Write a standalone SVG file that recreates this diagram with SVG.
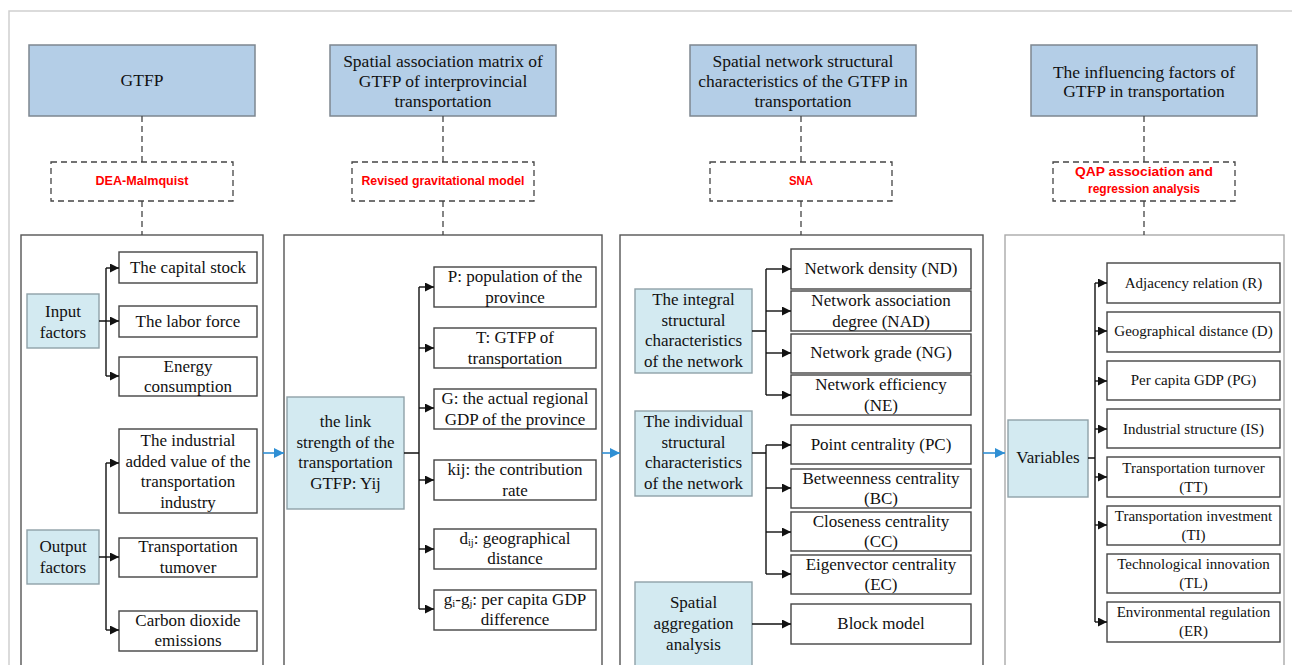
<svg xmlns="http://www.w3.org/2000/svg" width="1292" height="665" viewBox="0 0 1292 665">
<defs>
<marker id="ah" markerUnits="userSpaceOnUse" markerWidth="10" markerHeight="10" refX="9" refY="4.5" orient="auto"><path d="M0,0 L9,4.5 L0,9 z" fill="#111"/></marker>
<marker id="bh" markerUnits="userSpaceOnUse" markerWidth="12" markerHeight="12" refX="10" refY="5" orient="auto"><path d="M0,0 L10,5 L0,10 z" fill="#2f8fd4"/></marker>
<style>
.frame{fill:none;stroke:#cfcfcf;stroke-width:1.5}
.hdr{fill:#b4cee7;stroke:#7d8790;stroke-width:1.5}
.dbox{fill:#fff;stroke:#444;stroke-width:1.3;stroke-dasharray:6 4}
.dl{fill:none;stroke:#444;stroke-width:1.3;stroke-dasharray:6 4}
.col{fill:#fff;stroke:#555;stroke-width:1.4}
.col4{fill:#fff;stroke:#aaa;stroke-width:1.4}
.src{fill:#d3eaf1;stroke:#8fa1a8;stroke-width:1.4}
.item{fill:#fff;stroke:#444;stroke-width:1.4}
.ln{fill:none;stroke:#111;stroke-width:1.4}
.ar{fill:none;stroke:#111;stroke-width:1.4;marker-end:url(#ah)}
.bl{fill:none;stroke:#2f8fd4;stroke-width:1.6;marker-end:url(#bh)}
text{font-family:"Liberation Serif","Times New Roman",serif;font-size:17px;fill:#111;text-anchor:middle}
.h{font-size:17.5px}
.s{font-size:15px}
.red{font-family:"Liberation Sans",Arial,sans-serif;font-weight:bold;font-size:12.5px;fill:#ff0000}
.sub{font-size:10.5px}
</style>
</defs>
<path class="frame" d="M9,700 L9,11 L1300,11"/>

<!-- headers -->
<g id="h1"><rect class="hdr" x="29" y="45" width="226" height="71"/><text class="h" x="142" y="86">GTFP</text></g>
<g id="h2"><rect class="hdr" x="330" y="45" width="226" height="71"/><text class="h" x="443" y="67">Spatial association matrix of</text><text class="h" x="443" y="87">GTFP of interprovincial</text><text class="h" x="443" y="107">transportation</text></g>
<g id="h3"><rect class="hdr" x="690" y="45" width="226" height="71"/><text class="h" x="803" y="67">Spatial network structural</text><text class="h" x="803" y="87">characteristics of the GTFP in</text><text class="h" x="803" y="107">transportation</text></g>
<g id="h4"><rect class="hdr" x="1031" y="45" width="226" height="71"/><text class="h" x="1144" y="78">The influencing factors of</text><text class="h" x="1144" y="97">GTFP in transportation</text></g>

<!-- method boxes -->
<g id="m1"><rect class="dbox" x="51" y="162" width="182" height="39"/><text class="red" x="142" y="185" textLength="93" lengthAdjust="spacingAndGlyphs">DEA-Malmquist</text></g>
<g id="m2"><rect class="dbox" x="352" y="162" width="182" height="39"/><text class="red" x="443" y="185" textLength="163" lengthAdjust="spacingAndGlyphs">Revised gravitational model</text></g>
<g id="m3"><rect class="dbox" x="710" y="162" width="182" height="39"/><text class="red" x="801" y="185" textLength="24" lengthAdjust="spacingAndGlyphs">SNA</text></g>
<g id="m4"><rect class="dbox" x="1053" y="162" width="182" height="39"/><text class="red" x="1144" y="176" textLength="138" lengthAdjust="spacingAndGlyphs">QAP association and</text><text class="red" x="1144" y="193" textLength="112" lengthAdjust="spacingAndGlyphs">regression analysis</text></g>

<!-- columns -->
<g id="c1"><rect class="col" x="21" y="235" width="242" height="500"/></g>
<g id="c2"><rect class="col" x="284" y="235" width="318" height="500"/></g>
<g id="c3"><rect class="col" x="620" y="235" width="363" height="500"/></g>
<g id="c4"><rect class="col4" x="1005" y="235" width="279" height="500"/></g>

<!-- column 1 nodes -->
<g id="input"><rect class="src" x="27" y="294" width="72" height="54"/><text x="63" y="317">Input</text><text x="63" y="338">factors</text></g>
<g id="output"><rect class="src" x="27" y="530" width="72" height="54"/><text x="63" y="552">Output</text><text x="63" y="573">factors</text></g>
<g id="capital"><rect class="item" x="119" y="252" width="138" height="31"/><text x="188" y="273">The capital stock</text></g>
<g id="labor"><rect class="item" x="119" y="306" width="138" height="31"/><text x="188" y="327">The labor force</text></g>
<g id="energy"><rect class="item" x="119" y="357" width="138" height="39"/><text x="188" y="372">Energy</text><text x="188" y="392">consumption</text></g>
<g id="industrial"><rect class="item" x="119" y="429" width="138" height="84"/><text x="188" y="446">The industrial</text><text x="188" y="467">added value of the</text><text x="188" y="487">transportation</text><text x="188" y="508">industry</text></g>
<g id="turnover"><rect class="item" x="119" y="538" width="138" height="39"/><text x="188" y="552">Transportation</text><text x="188" y="573">tumover</text></g>
<g id="carbon"><rect class="item" x="119" y="611" width="138" height="40"/><text x="188" y="626">Carbon dioxide</text><text x="188" y="646">emissions</text></g>

<!-- column 2 nodes -->
<g id="link"><rect class="src" x="287" y="397" width="117" height="112"/><text x="345.5" y="427">the link</text><text x="345.5" y="448">strength of the</text><text x="345.5" y="468">transportation</text><text x="345.5" y="489">GTFP: Yij</text></g>
<g id="pP"><rect class="item" x="434" y="267" width="162" height="40"/><text x="515" y="282">P: population of the</text><text x="515" y="303">province</text></g>
<g id="pT"><rect class="item" x="434" y="328" width="162" height="40"/><text x="515" y="343">T: GTFP of</text><text x="515" y="364">transportation</text></g>
<g id="pG"><rect class="item" x="434" y="389" width="162" height="40"/><text x="515" y="404">G: the actual regional</text><text x="515" y="425">GDP of the province</text></g>
<g id="pk"><rect class="item" x="434" y="460" width="162" height="40"/><text x="515" y="475">kij: the contribution</text><text x="515" y="496">rate</text></g>
<g id="pd"><rect class="item" x="434" y="529" width="162" height="40"/><text x="515" y="544">d<tspan class="sub" dy="2">ij</tspan><tspan dy="-2">: geographical</tspan></text><text x="515" y="564">distance</text></g>
<g id="pg"><rect class="item" x="434" y="590" width="162" height="40"/><text x="515" y="605">g<tspan class="sub" dy="2">i</tspan><tspan dy="-2">-g</tspan><tspan class="sub" dy="2">j</tspan><tspan dy="-2">: per capita GDP</tspan></text><text x="515" y="625">difference</text></g>

<!-- column 3 nodes -->
<g id="integral"><rect class="src" x="635" y="289" width="117" height="84"/><text x="693.5" y="305">The integral</text><text x="693.5" y="326">structural</text><text x="693.5" y="346">characteristics</text><text x="693.5" y="367">of the network</text></g>
<g id="individual"><rect class="src" x="635" y="411" width="117" height="85"/><text x="693.5" y="427">The individual</text><text x="693.5" y="448">structural</text><text x="693.5" y="468">characteristics</text><text x="693.5" y="489">of the network</text></g>
<g id="aggregation"><rect class="src" x="635" y="582" width="117" height="100"/><text x="693.5" y="608">Spatial</text><text x="693.5" y="629">aggregation</text><text x="693.5" y="650">analysis</text></g>
<g id="nd"><rect class="item" x="791" y="249" width="180" height="40"/><text x="881" y="274">Network density (ND)</text></g>
<g id="nad"><rect class="item" x="791" y="291" width="180" height="40"/><text x="881" y="306">Network association</text><text x="881" y="327">degree (NAD)</text></g>
<g id="ng"><rect class="item" x="791" y="334" width="180" height="39"/><text x="881" y="358">Network grade (NG)</text></g>
<g id="ne"><rect class="item" x="791" y="375" width="180" height="40"/><text x="881" y="390">Network efficiency</text><text x="881" y="411">(NE)</text></g>
<g id="pc"><rect class="item" x="791" y="425" width="180" height="39"/><text x="881" y="450">Point centrality (PC)</text></g>
<g id="bc"><rect class="item" x="791" y="469" width="180" height="39"/><text x="881" y="484">Betweenness centrality</text><text x="881" y="504">(BC)</text></g>
<g id="cc"><rect class="item" x="791" y="512" width="180" height="39"/><text x="881" y="527">Closeness centrality</text><text x="881" y="547">(CC)</text></g>
<g id="ec"><rect class="item" x="791" y="555" width="180" height="39"/><text x="881" y="570">Eigenvector centrality</text><text x="881" y="590">(EC)</text></g>
<g id="block"><rect class="item" x="791" y="604" width="180" height="40"/><text x="881" y="629">Block model</text></g>

<!-- column 4 nodes -->
<g id="variables"><rect class="src" x="1008" y="420" width="80" height="77"/><text x="1048" y="463">Variables</text></g>
<g id="vR"><rect class="item" x="1107" y="263" width="173" height="40"/><text class="s" x="1193.5" y="288">Adjacency relation (R)</text></g>
<g id="vD"><rect class="item" x="1107" y="312" width="173" height="40"/><text class="s" x="1193.5" y="336">Geographical distance (D)</text></g>
<g id="vPG"><rect class="item" x="1107" y="361" width="173" height="39"/><text class="s" x="1193.5" y="385">Per capita GDP (PG)</text></g>
<g id="vIS"><rect class="item" x="1107" y="409" width="173" height="39"/><text class="s" x="1193.5" y="434">Industrial structure (IS)</text></g>
<g id="vTT"><rect class="item" x="1107" y="457" width="173" height="40"/><text class="s" x="1193.5" y="473">Transportation turnover</text><text class="s" x="1193.5" y="492">(TT)</text></g>
<g id="vTI"><rect class="item" x="1107" y="506" width="173" height="39"/><text class="s" x="1193.5" y="521">Transportation investment</text><text class="s" x="1193.5" y="540">(TI)</text></g>
<g id="vTL"><rect class="item" x="1107" y="554" width="173" height="39"/><text class="s" x="1193.5" y="569">Technological innovation</text><text class="s" x="1193.5" y="588">(TL)</text></g>
<g id="vER"><rect class="item" x="1107" y="602" width="173" height="40"/><text class="s" x="1193.5" y="617">Environmental regulation</text><text class="s" x="1193.5" y="636">(ER)</text></g>

<g id="connectors">
<!-- dashed links -->
<path class="dl" d="M142,116 V162 M142,201 V235 M443,116 V162 M443,201 V235 M801,116 V162 M801,201 V235 M1144,116 V162 M1144,201 V235"/>
<!-- column 1 -->
<path class="ln" d="M99,321 H106 M106,268 V376 M99,557 H106 M106,463 V630"/>
<line class="ar" x1="106" y1="268" x2="119" y2="268"/>
<line class="ar" x1="106" y1="321" x2="119" y2="321"/>
<line class="ar" x1="106" y1="376" x2="119" y2="376"/>
<line class="ar" x1="106" y1="463" x2="119" y2="463"/>
<line class="ar" x1="106" y1="557" x2="119" y2="557"/>
<line class="ar" x1="106" y1="630" x2="119" y2="630"/>
<!-- column 2 -->
<path class="ln" d="M404,453 H419 M419,287 V609"/>
<line class="ar" x1="419" y1="287" x2="434" y2="287"/>
<line class="ar" x1="419" y1="348" x2="434" y2="348"/>
<line class="ar" x1="419" y1="408" x2="434" y2="408"/>
<line class="ar" x1="419" y1="480" x2="434" y2="480"/>
<line class="ar" x1="419" y1="549" x2="434" y2="549"/>
<line class="ar" x1="419" y1="609" x2="434" y2="609"/>
<!-- column 3 -->
<path class="ln" d="M752,331 H766 M766,269 V395 M752,453 H766 M766,445 V574"/>
<line class="ar" x1="766" y1="269" x2="791" y2="269"/>
<line class="ar" x1="766" y1="311" x2="791" y2="311"/>
<line class="ar" x1="766" y1="353" x2="791" y2="353"/>
<line class="ar" x1="766" y1="395" x2="791" y2="395"/>
<line class="ar" x1="766" y1="445" x2="791" y2="445"/>
<line class="ar" x1="766" y1="488" x2="791" y2="488"/>
<line class="ar" x1="766" y1="532" x2="791" y2="532"/>
<line class="ar" x1="766" y1="574" x2="791" y2="574"/>
<line class="ar" x1="752" y1="624" x2="791" y2="624"/>
<!-- column 4 -->
<path class="ln" d="M1088,458 H1095 M1095,283 V622"/>
<line class="ar" x1="1095" y1="283" x2="1107" y2="283"/>
<line class="ar" x1="1095" y1="331" x2="1107" y2="331"/>
<line class="ar" x1="1095" y1="381" x2="1107" y2="381"/>
<line class="ar" x1="1095" y1="429" x2="1107" y2="429"/>
<line class="ar" x1="1095" y1="477" x2="1107" y2="477"/>
<line class="ar" x1="1095" y1="525" x2="1107" y2="525"/>
<line class="ar" x1="1095" y1="622" x2="1107" y2="622"/>
<!-- blue arrows between columns -->
<line class="bl" x1="263" y1="453" x2="284" y2="453"/>
<line class="bl" x1="602" y1="453" x2="620" y2="453"/>
<line class="bl" x1="983" y1="453" x2="1005" y2="453"/>
</g>
</svg>
